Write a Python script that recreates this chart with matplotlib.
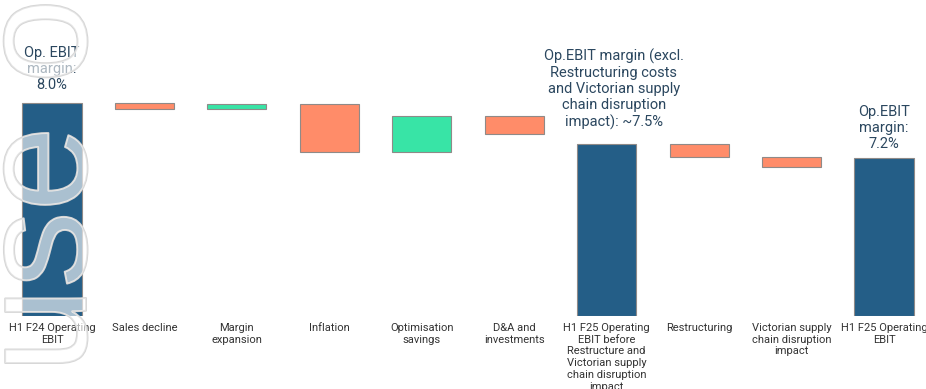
import matplotlib
matplotlib.use("Agg")
import matplotlib.pyplot as plt
import matplotlib.patheffects as pe
from matplotlib.textpath import TextPath
from matplotlib.font_manager import FontProperties

# Bridge categories (x axis)
categories = [
    "H1 F24 Operating\nEBIT",
    "Sales decline",
    "Margin\nexpansion",
    "Inflation",
    "Optimisation\nsavings",
    "D&A and\ninvestments",
    "H1 F25 Operating\nEBIT before\nRestructure and\nVictorian supply\nchain disruption\nimpact",
    "Restructuring",
    "Victorian supply\nchain disruption\nimpact",
    "H1 F25 Operating\nEBIT",
]

# Floating bar extents ($m): lower and upper edge of each bar
bar_low = [0.0, 51.8, 51.8, 41.0, 41.0, 45.5, 0.0, 39.8, 37.3, 0.0]
bar_high = [53.3, 53.3, 53.0, 53.0, 50.0, 50.0, 43.0, 43.0, 39.8, 39.6]
kinds = ["total", "down", "up", "down", "up", "down", "total", "down", "down", "total"]

# Margin call-outs above the subtotal bars
callouts = {
    0: "Op. EBIT\nmargin:\n8.0%",
    6: "Op.EBIT margin (excl.\nRestructuring costs\nand Victorian supply\nchain disruption\nimpact): ~7.5%",
    9: "Op.EBIT\nmargin:\n7.2%",
}
callout_gap = {0: 7.5, 6: 10, 9: 4.5}
callout_dx = {0: 0, 6: 5, 9: 0}

palette = {"total": "#245e87", "down": "#ff8c69", "up": "#38e4a6"}

W, H, DPI = 926, 389, 100
fig = plt.figure(figsize=(W / DPI, H / DPI), dpi=DPI)
ax = fig.add_axes([0, 73 / H, 1, 316 / H])

x = list(range(len(categories)))
heights = [h - l for l, h in zip(bar_low, bar_high)]
ax.bar(x, heights, bottom=bar_low, width=0.64,
       color=[palette[k] for k in kinds],
       edgecolor="#8f8a88", linewidth=0.8, zorder=2)

for i, txt in callouts.items():
    ax.annotate(txt, xy=(x[i], bar_high[i]),
                xytext=(callout_dx[i], callout_gap[i]), textcoords="offset points",
                ha="center", va="bottom", multialignment="center",
                fontsize=10.5, family="Roboto", color="#2b475f",
                linespacing=1.2, zorder=3)

ax.set_xlim(-0.5625, 9.454)
ax.set_ylim(0, 79)
ax.set_xticks(x)
ax.set_xticklabels(categories, fontsize=8, family="Roboto", color="#333333",
                   linespacing=1.22, va="top")
ax.tick_params(axis="x", length=0, pad=5)
ax.set_yticks([])
for s in ax.spines.values():
    s.set_visible(False)

# Rotated outline watermark along the left edge
wm_text = "For personal use only"
wm_px = 153.0
fp = FontProperties(family="Liberation Sans")
prefix_end = TextPath((0, 0), "For personal u", size=wm_px, prop=fp).get_extents().x1
u_w = TextPath((0, 0), "u", size=wm_px, prop=fp).get_extents().width
u_start = prefix_end - u_w
anchor_y = (H - 363) - u_start
fig.text(86 / W, anchor_y / H, wm_text, rotation=90, rotation_mode="anchor",
         ha="left", va="baseline", fontsize=wm_px * 72 / DPI,
         family="Liberation Sans", color=(1, 1, 1, 0.38), zorder=10,
         path_effects=[pe.Stroke(linewidth=1.4, foreground="#d6d6d6"), pe.Normal()])

fig.savefig("out.png", dpi=DPI)
